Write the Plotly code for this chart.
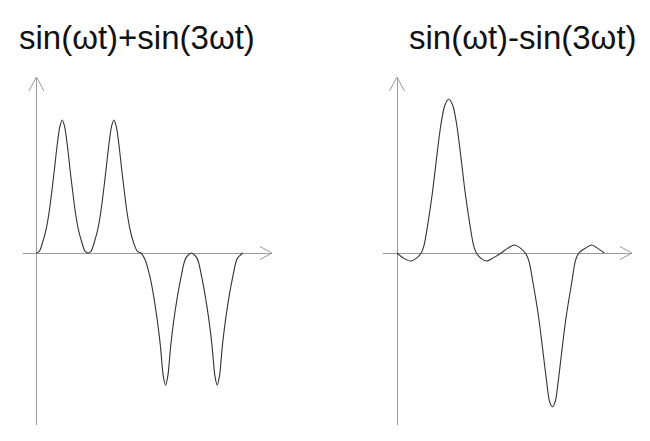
"""Two waveforms: sum and difference of sin(wt) and sin(3wt)"""
import plotly.graph_objects as go
from plotly.subplots import make_subplots

W, H = 650, 441
PAGE_MARGIN = 8  # the browser puts the plot 8px in from the top-left corner

# phase in degrees (0..360 = one period of wt)
SUM_PHASE = [0, 5, 10.5, 17, 22.7, 30, 36.6, 41, 45, 49, 53.4, 60, 67.3, 73, 79.5, 85, 90,
             95, 100.5, 107, 112.7, 120, 126.6, 131, 135, 139, 143.4, 150, 157.3, 163, 169.5,
             176, 182, 189, 198.3, 208.4, 215.8, 221, 225, 229, 234.2, 241.6, 251.7, 260, 270,
             280, 288.3, 298.4, 305.8, 311, 315, 319, 324.2, 331.6, 341.7, 350, 360]
SUM_VALUE = [0, 0.02, 0.13, 0.31, 0.56, 0.997, 1.431, 1.65, 1.73, 1.65, 1.431, 0.997, 0.56, 0.31,
             0.13, 0.02, 0,
             0.02, 0.13, 0.31, 0.56, 0.997, 1.431, 1.65, 1.73, 1.65, 1.431, 0.997, 0.56, 0.31, 0.13,
             0.02, 0, -0.08, -0.325, -0.76, -1.193, -1.6, -1.72, -1.6, -1.193, -0.76, -0.325, -0.07, 0,
             -0.07, -0.325, -0.76, -1.193, -1.6, -1.72, -1.6, -1.193, -0.76, -0.325, -0.07, 0]

DIFF_PHASE = [0, 12, 24, 35, 42, 47, 53.2, 61.7, 68.6, 76.1, 83, 90, 97, 103.9, 111.4, 118.3,
              126.8, 133, 138, 146, 156, 168, 181, 192, 204, 215, 223, 229, 236.6, 246, 253.3,
              260.4, 265, 270, 275, 279.6, 286.5, 293.8, 303.2, 310, 316, 327, 338, 349, 360]
DIFF_VALUE = [0, -0.07, -0.104, -0.06, 0, 0.1, 0.36, 0.794, 1.227, 1.662, 1.92, 2.0, 1.92, 1.662,
              1.227, 0.794, 0.36, 0.1, 0, -0.07, -0.104, -0.06, 0, 0.06, 0.104, 0.06, 0, -0.1,
              -0.40, -0.833, -1.266, -1.70, -1.93, -2.0, -1.93, -1.70, -1.266, -0.833, -0.40, -0.1,
              0, 0.06, 0.104, 0.06, 0]

TITLES = ["sin(\u03c9t)+sin(3\u03c9t)", "sin(\u03c9t)-sin(3\u03c9t)"]

AXIS_COLOR = "#9a9a9a"
CURVE_COLOR = "#333333"
TEXT_COLOR = "#111111"

# pixel layout of each panel (screen px): x-axis span, origin x, px per degree
PANELS = [
  dict(x0=23, x1=272, origin=36.4, px_per_deg=0.574, title_x=17),
  dict(x0=383, x1=632, origin=397, px_per_deg=0.5756, title_x=407),
]
Y_TOP, Y_BOTTOM, Y_ZERO = 78, 425, 253
PX_PER_UNIT = 76.85


def px(x, y):
  """screen pixel (from top-left of the window) to paper coords"""
  return (x - PAGE_MARGIN) / W, 1 - (y - PAGE_MARGIN) / H


def arrow_path(points):
  parts = []
  for i, (x, y) in enumerate(points):
    u, v = px(x, y)
    parts.append(("M" if i == 0 else "L") + f"{u:.5f},{v:.5f}")
  return " ".join(parts)


def main():
  fig = make_subplots(rows=1, cols=2)
  series = [(SUM_PHASE, SUM_VALUE), (DIFF_PHASE, DIFF_VALUE)]
  y_range = [-(Y_BOTTOM - Y_ZERO) / PX_PER_UNIT, (Y_ZERO - Y_TOP) / PX_PER_UNIT]
  y_domain = [px(0, Y_BOTTOM)[1], px(0, Y_TOP)[1]]

  for i, (panel, (phase, value)) in enumerate(zip(PANELS, series)):
    fig.add_trace(
      go.Scatter(
        x=phase, y=value, mode="lines",
        line=dict(color=CURVE_COLOR, width=1.1, shape="spline", smoothing=0.8),
        hoverinfo="skip", showlegend=False,
      ),
      row=1, col=i + 1
    )
    x_range = [(panel["x0"] - panel["origin"]) / panel["px_per_deg"],
               (panel["x1"] - panel["origin"]) / panel["px_per_deg"]]
    fig.update_xaxes(
      domain=[px(panel["x0"], 0)[0], px(panel["x1"], 0)[0]], range=x_range,
      showgrid=False, showticklabels=False, ticks="", showline=False,
      zeroline=True, zerolinecolor=AXIS_COLOR, zerolinewidth=1,
      row=1, col=i + 1
    )
    fig.update_yaxes(
      domain=y_domain, range=y_range,
      showgrid=False, showticklabels=False, ticks="", showline=False,
      zeroline=True, zerolinecolor=AXIS_COLOR, zerolinewidth=1,
      row=1, col=i + 1
    )

    # open arrowheads on both axes
    ox = panel["origin"]
    fig.add_shape(type="path", xref="paper", yref="paper",
                  path=arrow_path([(ox - 7.5, Y_TOP + 13), (ox, Y_TOP - 1), (ox + 7.5, Y_TOP + 13)]),
                  line=dict(color=AXIS_COLOR, width=1))
    ex = panel["x1"]
    fig.add_shape(type="path", xref="paper", yref="paper",
                  path=arrow_path([(ex - 12, Y_ZERO - 6.5), (ex, Y_ZERO), (ex - 12, Y_ZERO + 6.5)]),
                  line=dict(color=AXIS_COLOR, width=1))

    tx, ty = px(panel["title_x"], 37)
    fig.add_annotation(
      text=TITLES[i], xref="paper", yref="paper", x=tx, y=ty,
      xanchor="left", yanchor="middle", showarrow=False,
      font=dict(family="Liberation Sans, Arial, sans-serif", size=33, color=TEXT_COLOR)
    )

  fig.update_layout(
    width=W, height=H,
    margin=dict(l=0, r=0, t=0, b=0),
    paper_bgcolor="white", plot_bgcolor="white",
    showlegend=False,
  )
  fig.write_html("out.html")


if __name__ == "__main__":
  main()
